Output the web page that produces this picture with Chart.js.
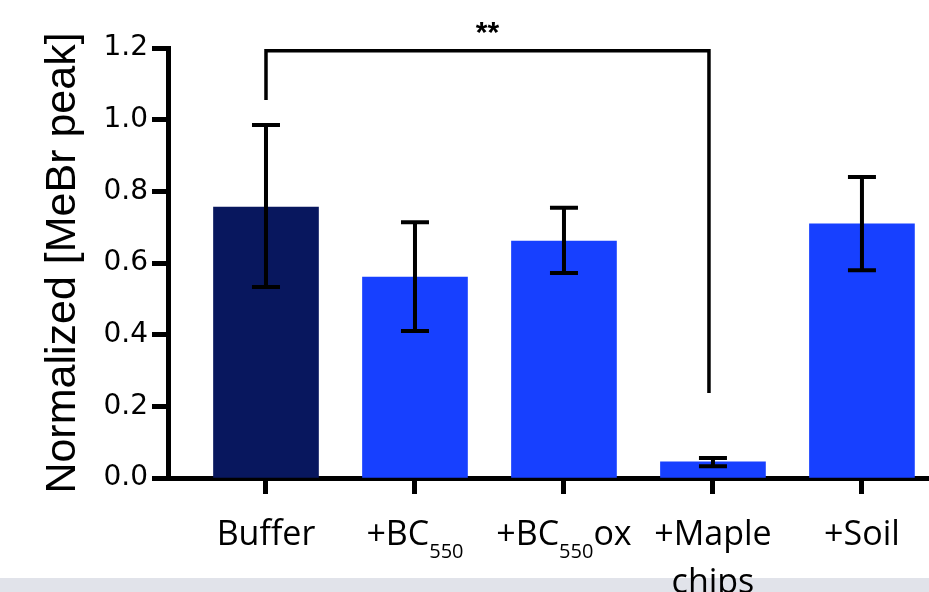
<!DOCTYPE html>
<html>
<head>
<meta charset="utf-8">
<script src="https://cdn.jsdelivr.net/npm/chart.js@4.4.1/dist/chart.umd.min.js"></script>
<style>
  html, body { margin: 0; padding: 0; background: #fff; overflow: hidden; }
</style>
</head>
<body>
<canvas id="meBrChart" width="929" height="592"></canvas>
<script>
// categories, "_{...}" marks a subscript, "\n" a second line
const categories = ['Buffer', '+BC_{550}', '+BC_{550}ox', '+Maple\nchips', '+Soil'];
const meanValues = [0.756, 0.561, 0.661, 0.045, 0.709];
const errUpper = [0.985, 0.714, 0.754, 0.056, 0.840];
const errLower = [0.533, 0.410, 0.572, 0.033, 0.580];
const yTicks = [0.0, 0.2, 0.4, 0.6, 0.8, 1.0, 1.2];
// significance bracket: between which bars, leg ends, top, label
const sigPair = [0, 3];
const sigLegEnds = [1.055, 0.237];
const sigTop = 1.192;
const sigLabel = '**';

const barColors = ['#08175e', '#1740ff', '#1740ff', '#1740ff', '#1740ff'];

// split a label line into [text, isSubscript] pieces
function parseLine(line) {
  const parts = [];
  const re = /_\{([^}]*)\}/g;
  let last = 0, m;
  while ((m = re.exec(line)) !== null) {
    if (m.index > last) parts.push([line.slice(last, m.index), false]);
    parts.push([m[1], true]);
    last = re.lastIndex;
  }
  if (last < line.length) parts.push([line.slice(last), false]);
  return parts;
}

const extrasPlugin = {
  id: 'extras',
  beforeDraw(chart) {
    const ctx = chart.ctx;
    ctx.save();
    ctx.fillStyle = '#fff';
    ctx.fillRect(0, 0, chart.width, chart.height);
    // grey strip along the bottom of the page
    ctx.fillStyle = '#e1e3ea';
    ctx.fillRect(0, 578, chart.width, chart.height - 578);
    ctx.restore();
  },
  afterDatasetsDraw(chart) {
    const ctx = chart.ctx;
    const x = chart.scales.x, y = chart.scales.y;
    ctx.save();
    ctx.strokeStyle = '#000';
    ctx.lineCap = 'butt';
    // error bars
    ctx.lineWidth = 4;
    categories.forEach((c, i) => {
      const px = x.getPixelForValue(i);
      const top = y.getPixelForValue(errUpper[i]);
      const bot = y.getPixelForValue(errLower[i]);
      ctx.beginPath();
      ctx.moveTo(px, top); ctx.lineTo(px, bot);
      ctx.moveTo(px - 14, top); ctx.lineTo(px + 14, top);
      ctx.moveTo(px - 14, bot); ctx.lineTo(px + 14, bot);
      ctx.stroke();
    });
    // significance bracket
    const x0 = x.getPixelForValue(sigPair[0]);
    const x1 = x.getPixelForValue(sigPair[1]) - 4;
    const yTop = y.getPixelForValue(sigTop);
    ctx.lineWidth = 3.5;
    ctx.lineJoin = 'miter';
    ctx.beginPath();
    ctx.moveTo(x0, y.getPixelForValue(sigLegEnds[0]));
    ctx.lineTo(x0, yTop);
    ctx.lineTo(x1, yTop);
    ctx.lineTo(x1, y.getPixelForValue(sigLegEnds[1]));
    ctx.stroke();
    ctx.fillStyle = '#000';
    ctx.font = 'bold 30px "Liberation Sans", Arial, sans-serif';
    ctx.textAlign = 'center';
    ctx.textBaseline = 'alphabetic';
    ctx.fillText(sigLabel, (x0 + x1) / 2, yTop - 9);
    ctx.restore();
  },
  afterDraw(chart) {
    const ctx = chart.ctx;
    const x = chart.scales.x;
    const mainFont = '34px "Open Sans", sans-serif';
    const subFont = '20px "Open Sans", sans-serif';
    const baseline = chart.chartArea.bottom + 67;
    ctx.save();
    ctx.fillStyle = '#000';
    ctx.textBaseline = 'alphabetic';
    ctx.textAlign = 'left';
    categories.forEach((label, i) => {
      const px = x.getPixelForValue(i);
      label.split('\n').forEach((line, li) => {
        const parts = parseLine(line);
        let w = 0;
        parts.forEach(([t, sub]) => { ctx.font = sub ? subFont : mainFont; w += ctx.measureText(t).width; });
        let cx = px - w / 2;
        const by = baseline + li * 48;
        parts.forEach(([t, sub]) => {
          ctx.font = sub ? subFont : mainFont;
          ctx.fillText(t, cx, sub ? by + 13 : by);
          cx += ctx.measureText(t).width;
        });
      });
    });
    ctx.restore();
  }
};

new Chart(document.getElementById('meBrChart'), {
  type: 'bar',
  data: {
    datasets: [{
      data: meanValues.map((v, i) => ({ x: i, y: v })),
      backgroundColor: barColors,
      borderWidth: 0,
      barThickness: 105
    }]
  },
  options: {
    responsive: false,
    animation: false,
    layout: { padding: { top: 48, right: 0, bottom: 0, left: 0 } },
    plugins: {
      legend: { display: false },
      tooltip: { enabled: false }
    },
    scales: {
      x: {
        type: 'linear',
        offset: false,
        min: -0.6577,
        max: 4.45,
        afterBuildTicks: s => { s.ticks = categories.map((c, i) => ({ value: i })); },
        afterFit: s => { s.height = 114; },
        ticks: { callback: () => '', padding: 0 },
        grid: { offset: false, drawOnChartArea: false, drawTicks: true, tickLength: 16, tickWidth: 5, tickColor: '#000' },
        border: { display: true, width: 5, color: '#000' }
      },
      y: {
        min: 0,
        max: 1.2,
        afterBuildTicks: s => { s.ticks = yTicks.map(v => ({ value: v })); },
        afterFit: s => { s.width = 168; },
        ticks: {
          callback: v => Number(v).toFixed(1),
          color: '#000',
          padding: 4,
          font: { family: '"DejaVu Sans", sans-serif', size: 28 }
        },
        grid: { drawOnChartArea: false, drawTicks: true, tickLength: 16, tickWidth: 5, tickColor: '#000' },
        border: { display: true, width: 5, color: '#000' },
        title: {
          display: true,
          text: 'Normalized [MeBr peak]',
          color: '#000',
          padding: { top: 37, bottom: 0 },
          font: { family: '"Liberation Sans", Arial, sans-serif', size: 43 }
        }
      }
    }
  },
  plugins: [extrasPlugin]
});
</script>
</body>
</html>
